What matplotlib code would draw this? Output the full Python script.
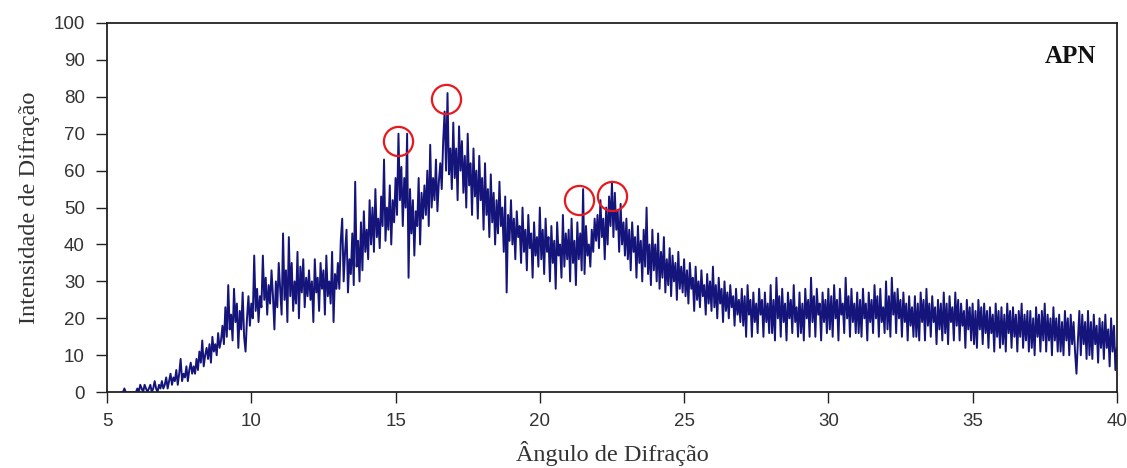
import numpy as np
import matplotlib.pyplot as plt

# intensity, 0.05 deg steps from 5.5 to 40.0
intensity = [
    0, 0, 1, 0, 0, 0, 0, 0, 0, 0,
    0, 1, 0, 2, 1, 0, 2, 1, 0, 1, 2, 0, 1, 3, 1, 0, 2, 1, 3, 1,
    2, 4, 1, 3, 5, 2, 4, 3, 6, 2, 5, 9, 3, 5, 4, 7, 3, 6, 8, 5,
    7, 5, 9, 6, 11, 8, 14, 7, 10, 12, 9, 13, 8, 15, 11, 13, 10, 16, 12, 14,
    18, 13, 23, 15, 29, 17, 21, 14, 28, 19, 24, 12, 22, 17, 27, 15, 11, 20, 26, 18,
    24, 20, 37, 22, 28, 19, 26, 23, 37, 25, 31, 21, 29, 24, 33, 26, 17, 30, 23, 35,
    28, 21, 43, 25, 33, 19, 42, 26, 35, 22, 30, 24, 38, 20, 34, 27, 36, 23, 31, 26,
    33, 25, 30, 19, 36, 27, 31, 22, 35, 28, 33, 21, 37, 26, 30, 24, 38, 19, 32, 28,
    35, 28, 41, 47, 30, 38, 44, 27, 36, 32, 43, 29, 57, 34, 41, 30, 46, 33, 49, 38,
    44, 36, 52, 40, 50, 38, 55, 42, 47, 39, 53, 45, 63, 41, 50, 44, 56, 40, 52, 46,
    58, 48, 70, 52, 61, 45, 58, 50, 70, 31, 55, 43, 52, 37, 49, 45, 58, 40, 54, 47,
    56, 48, 60, 45, 67, 50, 58, 52, 63, 49, 57, 62, 55, 68, 76, 60, 81, 59, 66, 55,
    73, 58, 66, 52, 72, 60, 68, 54, 64, 50, 70, 56, 62, 48, 66, 53, 60, 47, 64, 52,
    58, 44, 62, 48, 55, 42, 59, 46, 54, 40, 52, 43, 57, 45, 50, 38, 53, 27, 48, 41,
    52, 40, 47, 36, 49, 42, 45, 35, 50, 38, 44, 33, 48, 39, 43, 31, 46, 37, 42, 34,
    50, 36, 44, 32, 47, 38, 42, 30, 45, 35, 41, 28, 46, 37, 40, 31, 48, 34, 43, 36,
    44, 30, 47, 35, 41, 29, 46, 36, 43, 33, 55, 32, 45, 37, 40, 34, 44, 38, 47, 41,
    48, 39, 52, 42, 47, 36, 50, 40, 53, 45, 57, 42, 54, 44, 49, 38, 51, 40, 46, 37,
    47, 36, 44, 33, 46, 38, 42, 31, 45, 35, 41, 30, 44, 34, 50, 32, 40, 29, 44, 33,
    40, 30, 43, 28, 38, 31, 42, 27, 36, 29, 39, 26, 37, 30, 35, 25, 38, 28, 34, 27,
    36, 26, 33, 24, 35, 28, 31, 22, 34, 25, 30, 23, 33, 26, 29, 21, 32, 24, 30, 22,
    34, 23, 29, 20, 31, 24, 28, 19, 30, 22, 27, 20, 29, 23, 26, 18, 28, 21, 25, 19,
    28, 18, 26, 15, 29, 21, 25, 15, 27, 19, 24, 16, 28, 21, 25, 15, 27, 19, 24, 16,
    29, 16, 25, 14, 31, 20, 26, 15, 28, 19, 24, 14, 27, 20, 25, 16, 29, 19, 23, 15,
    27, 16, 24, 14, 28, 20, 25, 15, 31, 19, 26, 15, 28, 21, 24, 14, 27, 19, 25, 16,
    28, 17, 26, 15, 29, 20, 25, 14, 28, 21, 24, 16, 31, 20, 26, 15, 28, 19, 24, 16,
    27, 16, 25, 15, 28, 20, 24, 14, 27, 19, 25, 16, 29, 20, 26, 15, 28, 19, 23, 16,
    30, 17, 26, 15, 31, 21, 27, 16, 28, 20, 25, 15, 27, 19, 24, 14, 26, 18, 23, 15,
    26, 15, 24, 14, 27, 19, 25, 14, 28, 18, 24, 15, 26, 19, 23, 13, 25, 17, 24, 14,
    27, 16, 24, 13, 26, 19, 23, 14, 27, 18, 25, 14, 24, 18, 22, 12, 25, 17, 23, 14,
    24, 13, 22, 12, 25, 17, 23, 13, 24, 16, 22, 12, 23, 16, 21, 11, 24, 15, 22, 12,
    23, 13, 21, 11, 24, 16, 22, 12, 23, 15, 21, 11, 22, 15, 24, 12, 21, 14, 22, 11,
    22, 12, 20, 10, 23, 15, 21, 11, 22, 14, 24, 11, 21, 14, 20, 10, 23, 14, 20, 11,
    21, 11, 19, 10, 22, 14, 20, 10, 21, 13, 19, 11, 5, 14, 22, 10, 21, 13, 19, 9,
    22, 10, 19, 9, 21, 13, 18, 8, 20, 12, 19, 9, 21, 12, 17, 7, 20, 11, 18, 6,
    12,
]
angle = np.linspace(5.5, 40.0, len(intensity))

# circled peaks
peak_x = [15.1, 16.75, 21.35, 22.5]
peak_y = [68, 79.5, 52, 53]

x_ticks = [5, 10, 15, 20, 25, 30, 35, 40]
y_ticks = [0, 10, 20, 30, 40, 50, 60, 70, 80, 90, 100]

fig = plt.figure(figsize=(11.27, 4.68), dpi=100)
ax = fig.add_axes([0.095, 0.162, 0.896, 0.789])

ax.plot(angle, intensity, color='#14147a', lw=1.4)
ax.plot(peak_x, peak_y, 'o', ms=21, mfc='none', mec='#e8191e', mew=1.6)

ax.set_xlim(5, 40)
ax.set_ylim(0, 100)
ax.set_xticks(x_ticks)
ax.set_yticks(y_ticks)
ax.tick_params(direction='out', length=8, width=1, colors='#222222',
               labelsize=13.5, labelcolor='#333333')
ax.tick_params(axis='y', pad=8)
ax.tick_params(axis='x', pad=7)
for lab in ax.get_xticklabels() + ax.get_yticklabels():
    lab.set_family('Liberation Sans')
for s in ax.spines.values():
    s.set_color('#222222')
    s.set_linewidth(1.3)

ax.set_xlabel('Ângulo de Difração', family='Liberation Serif', fontsize=17.5, color='#333333', labelpad=8)
ax.set_ylabel('Intensidade de Difração', family='Liberation Serif', fontsize=17.5, color='#333333', labelpad=10)
ax.text(0.98, 0.908, 'APN', transform=ax.transAxes, ha='right', va='center',
        family='Liberation Serif', fontweight='bold', fontsize=18, color='#111111')

fig.savefig('out.png', dpi=100)
